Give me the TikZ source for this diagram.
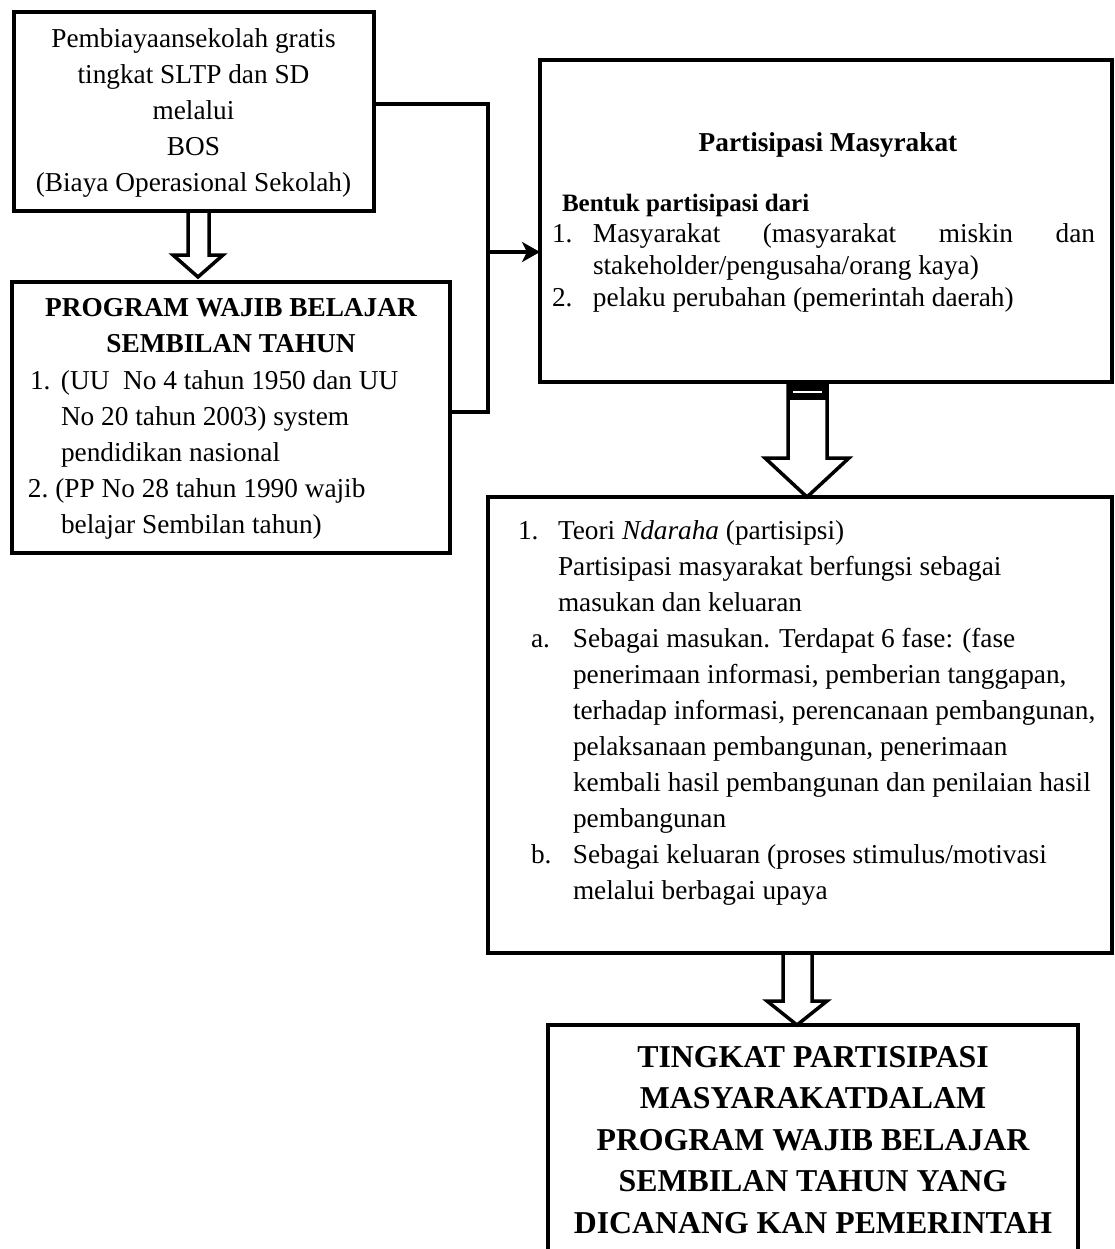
\documentclass[tikz,border=0pt]{standalone}
\usepackage{fontspec}
\setmainfont{Liberation Serif}
\usetikzlibrary{arrows.meta}
\begin{document}
\begin{tikzpicture}[x=1pt,y=-1pt,
  box/.style={draw, line width=4pt, inner sep=0pt, outer sep=0pt, anchor=north west},
  txt/.style={inner sep=0pt, outer sep=0pt, font=\fontsize{27.3}{36}\selectfont},
  btxt/.style={inner sep=0pt, outer sep=0pt, font=\fontsize{27.3}{36}\selectfont\bfseries},
  hollow/.style={draw, fill=white, line width=3.5pt, line join=miter},
  conn/.style={line width=4pt, line join=miter},
]
\useasboundingbox (0,0) rectangle (1114,1249);
\clip (0,0) rectangle (1114,1249);
\fill[white] (0,0) rectangle (1114,1249);

% hollow arrows
\draw[hollow] (188,211) -- (188,255) -- (173,255) -- (198,277) -- (223,255) -- (209,255) -- (209,211) -- cycle;
\draw[hollow] (788,382) -- (788,458) -- (765,458) -- (807,497) -- (849,458) -- (827,458) -- (827,382) -- cycle;
\fill[black] (788,382) rectangle (827,400);
\draw[white, line width=2pt] (793,392) -- (822,392);
\draw[hollow] (783,953) -- (783,1001) -- (767,1001) -- (797,1025) -- (827,1001) -- (812,1001) -- (812,953) -- cycle;

% boxes
\node[box, minimum width=360pt, minimum height=199pt] (b1) at (14,12) {};
\node[box, minimum width=438pt, minimum height=271pt] (b2) at (12,282) {};
\node[box, minimum width=572pt, minimum height=322pt] (b3) at (540,60) {};
\node[box, minimum width=624pt, minimum height=456pt] (b4) at (488,497) {};
\node[box, minimum width=530pt, minimum height=250pt] (b5) at (548,1025) {};

% connectors
\coordinate (c1) at (488,104);
\coordinate (c2) at (488,412);
\coordinate (c3) at (488,252);
\draw[conn] (b1.east |- c1) -- (c1) -- (c2) -- (b2.east |- c2);
\draw[conn, -{Stealth[length=18pt,width=20pt,inset=5pt]}] (c3) -- (b3.west |- c3);

% texts
\node[txt, anchor=base] (t1) at (193.5,48) {\begin{tabular}[t]{@{}c@{}}Pembiayaansekolah gratis\\ tingkat SLTP dan SD\\ melalui\\ BOS\\ (Biaya Operasional Sekolah)\end{tabular}};

\node[btxt, anchor=base] (t2) at (231,316) {\begin{tabular}[t]{@{}c@{}}PROGRAM WAJIB BELAJAR\\ SEMBILAN TAHUN\end{tabular}};

\node[txt, anchor=base west] (t3) at (30,389) {\begin{tabular}[t]{@{}p{31pt}@{}l@{}}1. & (UU\ \ No 4 tahun 1950 dan UU\\ & No 20 tahun 2003) system\\ & pendidikan nasional\\ \multicolumn{2}{@{}l@{}}{\hspace{-2pt}2.\ (PP No 28 tahun 1990 wajib}\\ & belajar Sembilan tahun)\end{tabular}};

\node[btxt, anchor=base] (t4) at (828,152) {Partisipasi Masyrakat};

\node[inner sep=0pt, outer sep=0pt, font=\fontsize{25}{30}\selectfont\bfseries, anchor=base west] (t5) at (562,212) {Bentuk partisipasi dari};

\node[inner sep=0pt, outer sep=0pt, font=\fontsize{27.3}{31.5}\selectfont, anchor=base west] (t6) at (552,243) {\begin{tabular}[t]{@{}p{41pt}@{}l@{}}1. & \hbox to 502pt{Masyarakat\hfill(masyarakat\hfill miskin\hfill dan}\\ & stakeholder/pengusaha/orang kaya)\\ 2. & pelaku perubahan (pemerintah daerah)\end{tabular}};

\node[txt, anchor=base west] (t7) at (518,539) {\begin{tabular}[t]{@{}p{40pt}@{}l@{}}1. & Teori \textit{Ndaraha} (partisipsi)\\ & Partisipasi masyarakat berfungsi sebagai\\ & masukan dan keluaran\end{tabular}};

\node[txt, anchor=base west] (t8) at (531,647) {\begin{tabular}[t]{@{}p{42pt}@{}l@{}}a. & Sebagai masukan. Terdapat 6 fase: (fase\\ & penerimaan informasi, pemberian tanggapan,\\ & terhadap informasi, perencanaan pembangunan,\\ & pelaksanaan pembangunan, penerimaan\\ & kembali hasil pembangunan dan penilaian hasil\\ & pembangunan\\ b. & Sebagai keluaran (proses stimulus/motivasi\\ & melalui berbagai upaya\end{tabular}};

\node[inner sep=0pt, outer sep=0pt, font=\fontsize{31.8}{41.5}\selectfont\bfseries, anchor=base] (t9) at (813,1067) {\begin{tabular}[t]{@{}c@{}}TINGKAT PARTISIPASI\\ MASYARAKATDALAM\\ PROGRAM WAJIB BELAJAR\\ SEMBILAN TAHUN YANG\\ DICANANG KAN PEMERINTAH\end{tabular}};
\end{tikzpicture}
\end{document}
